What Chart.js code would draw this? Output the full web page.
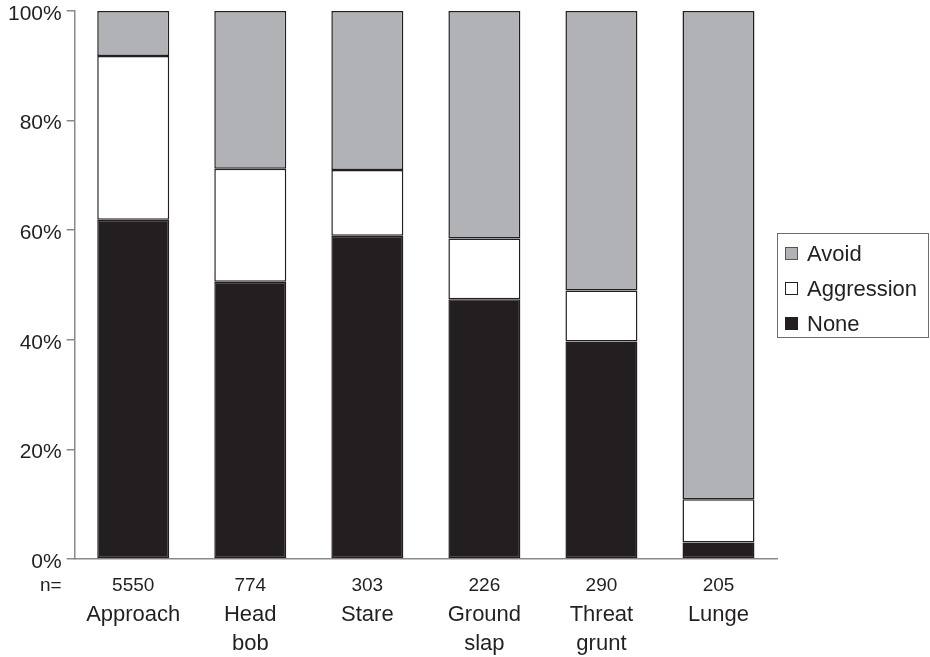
<!DOCTYPE html>
<html>
<head>
<meta charset="utf-8">
<script src="https://cdn.jsdelivr.net/npm/chart.js@4/dist/chart.umd.min.js"></script>
<style>
html,body{margin:0;padding:0;background:#fff;}
#wrap{width:930px;height:657px;position:relative;}
</style>
</head>
<body>
<div id="wrap"><canvas id="c"></canvas></div>
<script>
const categories = [["Approach"], ["Head", "bob"], ["Stare"], ["Ground", "slap"], ["Threat", "grunt"], ["Lunge"]];
const nValues = [5550, 774, 303, 226, 290, 205];
const noneValues = [61.9, 50.6, 59.0, 47.4, 39.7, 3.0];
const aggressionValues = [29.9, 20.6, 12.0, 11.1, 9.3, 7.9];
const avoidValues = [8.2, 28.8, 29.0, 41.5, 51.0, 89.1];
const yTicks = [0, 20, 40, 60, 80, 100];

const FONT = '"Liberation Sans", Arial, Helvetica, sans-serif';
const INK = '#231f20';
const AXIS = '#8a8a8a';

const nRowPlugin = {
  id: 'nRow',
  afterDraw(chart) {
    const ctx = chart.ctx;
    const x = chart.scales.x;
    const y = chart.scales.y;
    const rowY = y.bottom + 27;
    ctx.save();
    ctx.fillStyle = INK;
    ctx.font = '19px ' + FONT;
    ctx.textBaseline = 'middle';
    ctx.textAlign = 'right';
    ctx.fillText('n=', x.left - 13, rowY);
    ctx.textAlign = 'center';
    nValues.forEach((n, i) => {
      ctx.fillText(String(n), x.getPixelForValue(i), rowY);
    });
    ctx.restore();
  }
};

const boxLegendPlugin = {
  id: 'boxLegend',
  afterDraw(chart) {
    const ctx = chart.ctx;
    const area = chart.chartArea;
    const left = area.right;
    const top = 233, width = 151, height = 104;
    ctx.save();
    ctx.strokeStyle = '#6d6d6d';
    ctx.lineWidth = 1;
    ctx.strokeRect(left + 0.5, top + 0.5, width, height);
    const items = chart.data.datasets.slice().reverse();
    ctx.font = '22px ' + FONT;
    ctx.textBaseline = 'middle';
    ctx.textAlign = 'left';
    items.forEach((ds, i) => {
      const cy = top + 21 + i * 35;
      ctx.fillStyle = ds.backgroundColor;
      ctx.fillRect(left + 8, cy - 7, 13, 13);
      ctx.strokeStyle = i === 0 ? '#555' : INK;
      ctx.strokeRect(left + 8.5, cy - 6.5, 12, 12);
      ctx.fillStyle = INK;
      ctx.fillText(ds.label, left + 30, cy + 1);
    });
    ctx.restore();
  }
};

new Chart(document.getElementById('c'), {
  type: 'bar',
  data: {
    labels: categories,
    datasets: [
      { label: 'None', data: noneValues, backgroundColor: INK, borderColor: INK, borderWidth: 1.5, borderSkipped: false },
      { label: 'Aggression', data: aggressionValues, backgroundColor: '#ffffff', borderColor: INK, borderWidth: 1.5, borderSkipped: false },
      { label: 'Avoid', data: avoidValues, backgroundColor: '#b1b2b5', borderColor: INK, borderWidth: 1.5, borderSkipped: false }
    ]
  },
  options: {
    responsive: true,
    maintainAspectRatio: false,
    animation: false,
    layout: { padding: { left: 3, right: 153, top: 11, bottom: 0 } },
    plugins: {
      legend: { display: false },
      tooltip: { enabled: false }
    },
    datasets: { bar: { categoryPercentage: 1.0, barPercentage: 0.615 } },
    scales: {
      x: {
        stacked: true,
        offset: true,
        grid: { display: false, drawTicks: false },
        border: { display: true, color: AXIS, width: 1.5 },
        afterFit(scale) { scale.height = 98; scale.paddingLeft = 0; scale.paddingRight = 0; },
        ticks: {
          color: INK,
          font: { family: FONT, size: 22, lineHeight: 1.3 },
          padding: 42,
          maxRotation: 0,
          autoSkip: false
        }
      },
      y: {
        stacked: true,
        min: 0,
        max: 100,
        afterBuildTicks(scale) { scale.ticks = yTicks.map(v => ({ value: v })); },
        afterFit(scale) { scale.paddingTop = 0; scale.paddingBottom = 0; },
        grid: { drawOnChartArea: false, drawTicks: true, tickLength: 8, color: AXIS, lineWidth: 1.5 },
        border: { display: true, color: AXIS, width: 1.5 },
        ticks: {
          color: INK,
          font: { family: FONT, size: 21 },
          padding: 5,
          labelOffset: 3,
          callback: v => v + '%'
        }
      }
    }
  },
  plugins: [nRowPlugin, boxLegendPlugin]
});
</script>
</body>
</html>
